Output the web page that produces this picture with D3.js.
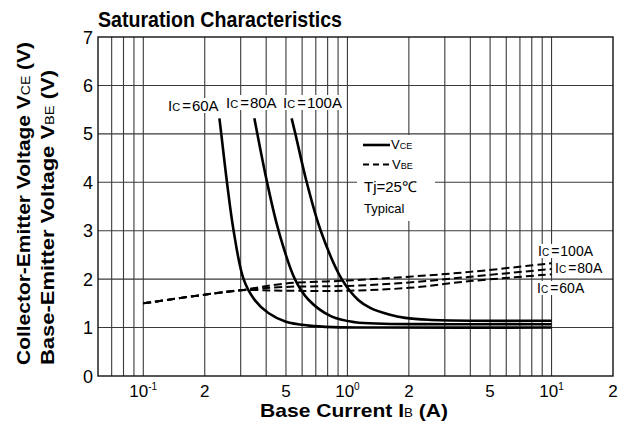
<!DOCTYPE html>
<html>
<head>
<meta charset="utf-8">
<script src="https://cdn.jsdelivr.net/npm/d3@7"></script>
<style>
  body { margin: 0; background: #fff; }
  text { font-family: "Liberation Sans", Arial, sans-serif; fill: #000; }
</style>
</head>
<body>
<div id="chart"></div>
<script>
// tick values
var xTicks = [0.1, 0.2, 0.5, 1, 2, 5, 10, 20];
var yTicks = [0, 1, 2, 3, 4, 5, 6, 7];

// Vce curves (IB in A, V)
var vce60 = [[0.236, 5.32], [0.241, 5.0], [0.257, 4.0], [0.277, 3.0], [0.31, 2.0], [0.35, 1.58],
  [0.41, 1.3], [0.5, 1.12], [0.65, 1.04], [0.85, 1.01], [1.5, 1.0], [10, 1.0]];
var vce80 = [[0.350, 5.32], [0.362, 5.0], [0.404, 4.0], [0.46, 3.0], [0.553, 2.0], [0.643, 1.58],
  [0.834, 1.23], [1.09, 1.11], [1.5, 1.08], [3, 1.07], [10, 1.07]];
var vce100 = [[0.533, 5.32], [0.556, 5.0], [0.632, 4.0], [0.740, 3.0], [0.938, 2.0], [1.13, 1.57],
  [1.3, 1.4], [1.6, 1.27], [1.92, 1.2], [2.5, 1.16], [4, 1.14], [10, 1.14]];

// Vbe curves
var vbeCommon = [[0.1, 1.5], [0.2, 1.68], [0.3, 1.77]];
var vbe60 = [[0.3, 1.76], [0.5, 1.76], [1, 1.76], [2, 1.82], [4, 1.96], [10, 2.1]];
var vbe80 = [[0.3, 1.77], [0.5, 1.84], [1, 1.86], [2, 1.93], [4, 2.05], [10, 2.21]];
var vbe100 = [[0.3, 1.78], [0.5, 1.91], [1, 1.97], [2, 2.05], [4, 2.15], [10, 2.33]];

var svgWidth = 626, svgHeight = 429;
var margin = {top: 37, right: 13, bottom: 53, left: 98};
var width = svgWidth - margin.left - margin.right;
var height = svgHeight - margin.top - margin.bottom;

var svg = d3.select("#chart").append("svg")
  .attr("width", svgWidth)
  .attr("height", svgHeight);

var chartGroup = svg.append("g")
  .attr("transform", `translate(${margin.left}, ${margin.top})`);

var x = d3.scaleLog().domain([0.06, 20]).range([0, width]);
var y = d3.scaleLinear().domain([0, 7]).range([height, 0]);

// minor grid for every 1..9 per decade
var gridX = x.ticks().filter(d => d > 0.06 && d < 20);
chartGroup.append("g").selectAll("line")
  .data(gridX)
  .enter().append("line")
  .attr("x1", d => x(d)).attr("x2", d => x(d))
  .attr("y1", 0).attr("y2", height)
  .attr("stroke", "#3a3a3a").attr("stroke-width", 1.1);

chartGroup.append("g").selectAll("line")
  .data(yTicks.slice(1, -1))
  .enter().append("line")
  .attr("x1", 0).attr("x2", width)
  .attr("y1", d => y(d)).attr("y2", d => y(d))
  .attr("stroke", "#3a3a3a").attr("stroke-width", 1.1);

chartGroup.append("rect")
  .attr("width", width).attr("height", height)
  .attr("fill", "none").attr("stroke", "#111").attr("stroke-width", 1.4);

// white patch behind legend
chartGroup.append("rect")
  .attr("x", 357 - margin.left).attr("y", 135 - margin.top)
  .attr("width", 78).attr("height", 86)
  .attr("fill", "#fff");

var line = d3.line()
  .x(d => x(d[0]))
  .y(d => y(d[1]))
  .curve(d3.curveCatmullRom.alpha(0.5));

[vce60, vce80, vce100].forEach(function(s) {
  chartGroup.append("path").datum(s)
    .attr("d", line)
    .attr("fill", "none").attr("stroke", "#000").attr("stroke-width", 2.6);
});

[vbe60, vbe80, vbe100].forEach(function(s) {
  chartGroup.append("path").datum(vbeCommon.concat(s.slice(1)))
    .attr("d", line)
    .attr("fill", "none").attr("stroke", "#000").attr("stroke-width", 2)
    .attr("stroke-dasharray", "8,4");
});

// axis tick labels
var xLabels = svg.append("g");
xTicks.forEach(function(d) {
  var t = xLabels.append("text")
    .attr("x", margin.left + x(d))
    .attr("y", 397)
    .attr("text-anchor", "middle")
    .style("font-size", "17px");
  var e = Math.floor(Math.log10(d) + 1e-9);
  var lead = Math.round(d / Math.pow(10, e));
  if (lead === 1) {
    t.append("tspan").text("10");
    t.append("tspan").attr("dy", -7).style("font-size", "10px").text(e);
  } else {
    t.text(lead);
  }
});

svg.append("g").selectAll("text")
  .data(yTicks)
  .enter().append("text")
  .attr("x", 93)
  .attr("y", d => margin.top + y(d) + 6.5)
  .attr("text-anchor", "end")
  .style("font-size", "18px")
  .text(d => d);

// titles
svg.append("text")
  .attr("x", 98).attr("y", 27)
  .attr("textLength", 244).attr("lengthAdjust", "spacingAndGlyphs")
  .style("font-size", "22px").style("font-weight", "bold")
  .text("Saturation Characteristics");

var xt = svg.append("text")
  .attr("x", 260).attr("y", 417)
  .attr("textLength", 188).attr("lengthAdjust", "spacingAndGlyphs")
  .style("font-size", "19px").style("font-weight", "bold");
xt.append("tspan").text("Base Current  I");
xt.append("tspan").style("font-size", "12px").style("font-weight", "normal").text("B");
xt.append("tspan").text(" (A)");

function yTitle(tx, main, sub, len) {
  var t = svg.append("text")
    .attr("transform", `translate(${tx}, 365) rotate(-90)`)
    .attr("textLength", len).attr("lengthAdjust", "spacingAndGlyphs")
    .style("font-size", "18px").style("font-weight", "bold");
  t.append("tspan").text(main);
  t.append("tspan").style("font-size", "12px").style("font-weight", "normal").text(sub);
  t.append("tspan").text(" (V)");
}
yTitle(30, "Collector-Emitter Voltage V", "CE", 323);
yTitle(54, "Base-Emitter Voltage V", "BE", 295);

// curve labels with white background
function icLabel(px, py, val, size) {
  var g = svg.append("g");
  var t = g.append("text").attr("x", px).attr("y", py).style("font-size", size + "px");
  t.append("tspan").text("I");
  t.append("tspan").style("font-size", (size - 4) + "px").text("C");
  t.append("tspan").attr("dx", 2).text("=");
  t.append("tspan").attr("dx", 1).text(val + "A");
  var b = t.node().getBBox();
  g.insert("rect", "text")
    .attr("x", b.x - 2).attr("y", b.y + 1)
    .attr("width", b.width + 4).attr("height", b.height - 2)
    .attr("fill", "#fff");
}
icLabel(168, 111, "60", 15);
icLabel(226, 108, "80", 15);
icLabel(283, 108, "100", 15);
icLabel(538, 256, "100", 14);
icLabel(555, 273, "80", 14);
icLabel(537, 293, "60", 14);

// legend
svg.append("line").attr("x1", 363).attr("x2", 390).attr("y1", 145).attr("y2", 145)
  .attr("stroke", "#000").attr("stroke-width", 2.6);
svg.append("line").attr("x1", 363).attr("x2", 391).attr("y1", 164.5).attr("y2", 164.5)
  .attr("stroke", "#000").attr("stroke-width", 2).attr("stroke-dasharray", "6,4");
var l1 = svg.append("text").attr("x", 391).attr("y", 149).style("font-size", "13px");
l1.append("tspan").text("V");
l1.append("tspan").style("font-size", "9px").text("CE");
var l2 = svg.append("text").attr("x", 392).attr("y", 168.5).style("font-size", "13px");
l2.append("tspan").text("V");
l2.append("tspan").style("font-size", "9px").text("BE");
svg.append("text").attr("x", 364).attr("y", 192).style("font-size", "15px").text("Tj=25℃");
svg.append("text").attr("x", 364).attr("y", 213).style("font-size", "13px").text("Typical");
</script>
</body>
</html>
